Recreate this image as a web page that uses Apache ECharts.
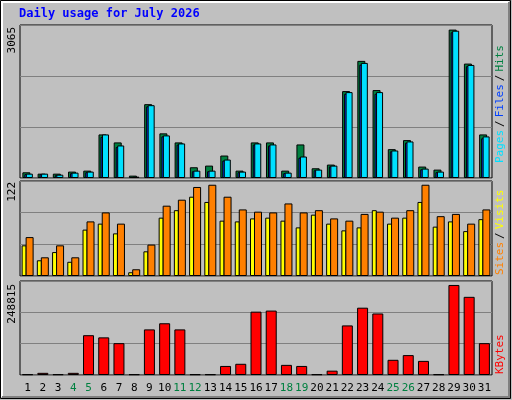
<!DOCTYPE html>
<html><head><meta charset="utf-8">
<script src="https://cdn.jsdelivr.net/npm/echarts@6/dist/echarts.min.js"></script>
<style>html,body{margin:0;padding:0;background:#c0c0c0}#c{width:512px;height:400px}</style>
</head><body><div id="c"></div>
<script>
const days = ['1','2','3','4','5','6','7','8','9','10','11','12','13','14','15','16','17','18','19','20','21','22','23','24','25','26','27','28','29','30','31'];
const weekend = ['4','5','11','12','18','19','25','26'];
const hits  = [118,90,90,132,152,900,735,49,1525,922,735,222,256,464,152,735,735,152,693,201,277,1795,2419,1816,596,783,236,173,3065,2363,900];
const files = [80,80,60,100,120,850,640,20,1480,860,690,140,140,360,120,690,670,100,420,160,240,1740,2340,1740,550,730,180,120,3010,2310,820];
const pages = [90,90,69,111,132,900,672,28,1504,880,714,152,152,381,132,714,693,111,444,173,256,1774,2377,1774,568,755,194,132,3042,2335,859];
const visits = [41,21,32,19,62,70,57,5,33,78,88,106,99,74,73,77,78,74,65,82,70,61,65,88,70,78,99,66,73,60,76];
const sites  = [52,25,41,25,73,85,70,9,42,94,102,119,122,106,89,86,85,97,85,88,77,74,83,86,78,88,122,80,83,70,89];
const kbytes = [2000,6000,2000,6000,110000,104000,88000,2000,126000,143000,126000,2000,2000,25000,31000,175000,178000,28000,25000,2000,12000,137000,186000,170000,42000,55000,39000,2000,248815,216000,88000];
const maxHits = 3065, maxSites = 122, maxK = 248815;

const F = 'DejaVu Sans Mono';
const grids = [
  {left:20,right:20,top:25,height:153},
  {left:20,right:20,top:181,height:95},
  {left:20,right:20,top:281,height:94}
];
const tops = [3160,127,259750];
const chart = echarts.init(document.getElementById('c'));
const xAxis = grids.map((g,i)=>({
  type:'category',data:days,gridIndex:i,
  axisLine:{show:false},axisTick:{show:false},
  axisLabel:i===2?{show:true,interval:0,margin:8,fontFamily:F,fontSize:11,
    formatter:v=>weekend.includes(v)?'{w|'+v+'}':'{d|'+v+'}',
    rich:{w:{color:'#008040',fontFamily:F,fontSize:11},d:{color:'#000',fontFamily:F,fontSize:11}}}:{show:false}
}));
const yAxis = tops.map((m,i)=>({
  type:'value',gridIndex:i,min:0,max:m,interval:m/3,
  axisLabel:{show:false},axisLine:{show:false},axisTick:{show:false},
  splitLine:{show:true,lineStyle:{color:'#808080',width:1}}
}));
const bs = c=>({color:c,borderColor:'#000',borderWidth:1});
const R = '11px "DejaVu Sans Mono"';
chart.setOption({
  animation:false,
  backgroundColor:'#c0c0c0',
  grid:grids.map(g=>Object.assign({show:true,backgroundColor:'#c0c0c0',borderColor:'#000',borderWidth:1},g)),
  xAxis, yAxis,
  series:[
    {type:'bar',xAxisIndex:0,yAxisIndex:0,data:hits,barWidth:8,barGap:'-75%',itemStyle:bs('#008040')},
    {type:'bar',xAxisIndex:0,yAxisIndex:0,data:files,barWidth:6,barGap:'-75%',itemStyle:bs('#0040ff')},
    {type:'bar',xAxisIndex:0,yAxisIndex:0,data:pages,barWidth:7,barGap:'-75%',itemStyle:bs('#00e0ff')},
    {type:'bar',xAxisIndex:1,yAxisIndex:1,data:visits,barWidth:5,barGap:'-20%',itemStyle:bs('#ffff00')},
    {type:'bar',xAxisIndex:1,yAxisIndex:1,data:sites,barWidth:8,barGap:'-20%',itemStyle:bs('#ff8000')},
    {type:'bar',xAxisIndex:2,yAxisIndex:2,data:kbytes,barWidth:11,itemStyle:bs('#ff0000')}
  ],
  graphic:[
    {type:'rect',shape:{x:0.5,y:0.5,width:510,height:398},style:{fill:'none',stroke:'#000',lineWidth:1}},
    {type:'polyline',shape:{points:[[2,397],[2,2],[509,2]]},style:{fill:'none',stroke:'#fff',lineWidth:2}},
    {type:'polyline',shape:{points:[[2,397],[509,397],[509,2]]},style:{fill:'none',stroke:'#808080',lineWidth:2}},
    {type:'text',left:19,top:8,style:{text:'Daily usage for July 2026',fill:'#0000ff',font:'bold 12px "DejaVu Sans Mono"'}},
    {type:'text',x:7,y:27,rotation:Math.PI/2,style:{text:String(maxHits),fill:'#000',font:R,align:'right',verticalAlign:'top'}},
    {type:'text',x:7,y:182,rotation:Math.PI/2,style:{text:String(maxSites),fill:'#000',font:R,align:'right',verticalAlign:'top'}},
    {type:'text',x:7,y:284,rotation:Math.PI/2,style:{text:String(maxK),fill:'#000',font:R,align:'right',verticalAlign:'top'}},
    {type:'text',x:495,y:163,rotation:Math.PI/2,style:{text:'{p|Pages}{s|/}{f|Files}{s|/}{h|Hits}',verticalAlign:'top',font:R,
      rich:{p:{fill:'#00e0ff',font:R},f:{fill:'#0040ff',font:R},h:{fill:'#008040',font:R},s:{fill:'#000',font:R,padding:[0,3]}}}},
    {type:'text',x:495,y:275,rotation:Math.PI/2,style:{text:'{a|Sites}{s|/}{b|Visits}',verticalAlign:'top',font:R,
      rich:{a:{fill:'#ff8000',font:R},b:{fill:'#ffff00',font:R},s:{fill:'#000',font:R,padding:[0,3]}}}},
    {type:'text',x:495,y:374,rotation:Math.PI/2,style:{text:'KBytes',fill:'#ff0000',verticalAlign:'top',font:R}}
  ]
});
</script></body></html>
